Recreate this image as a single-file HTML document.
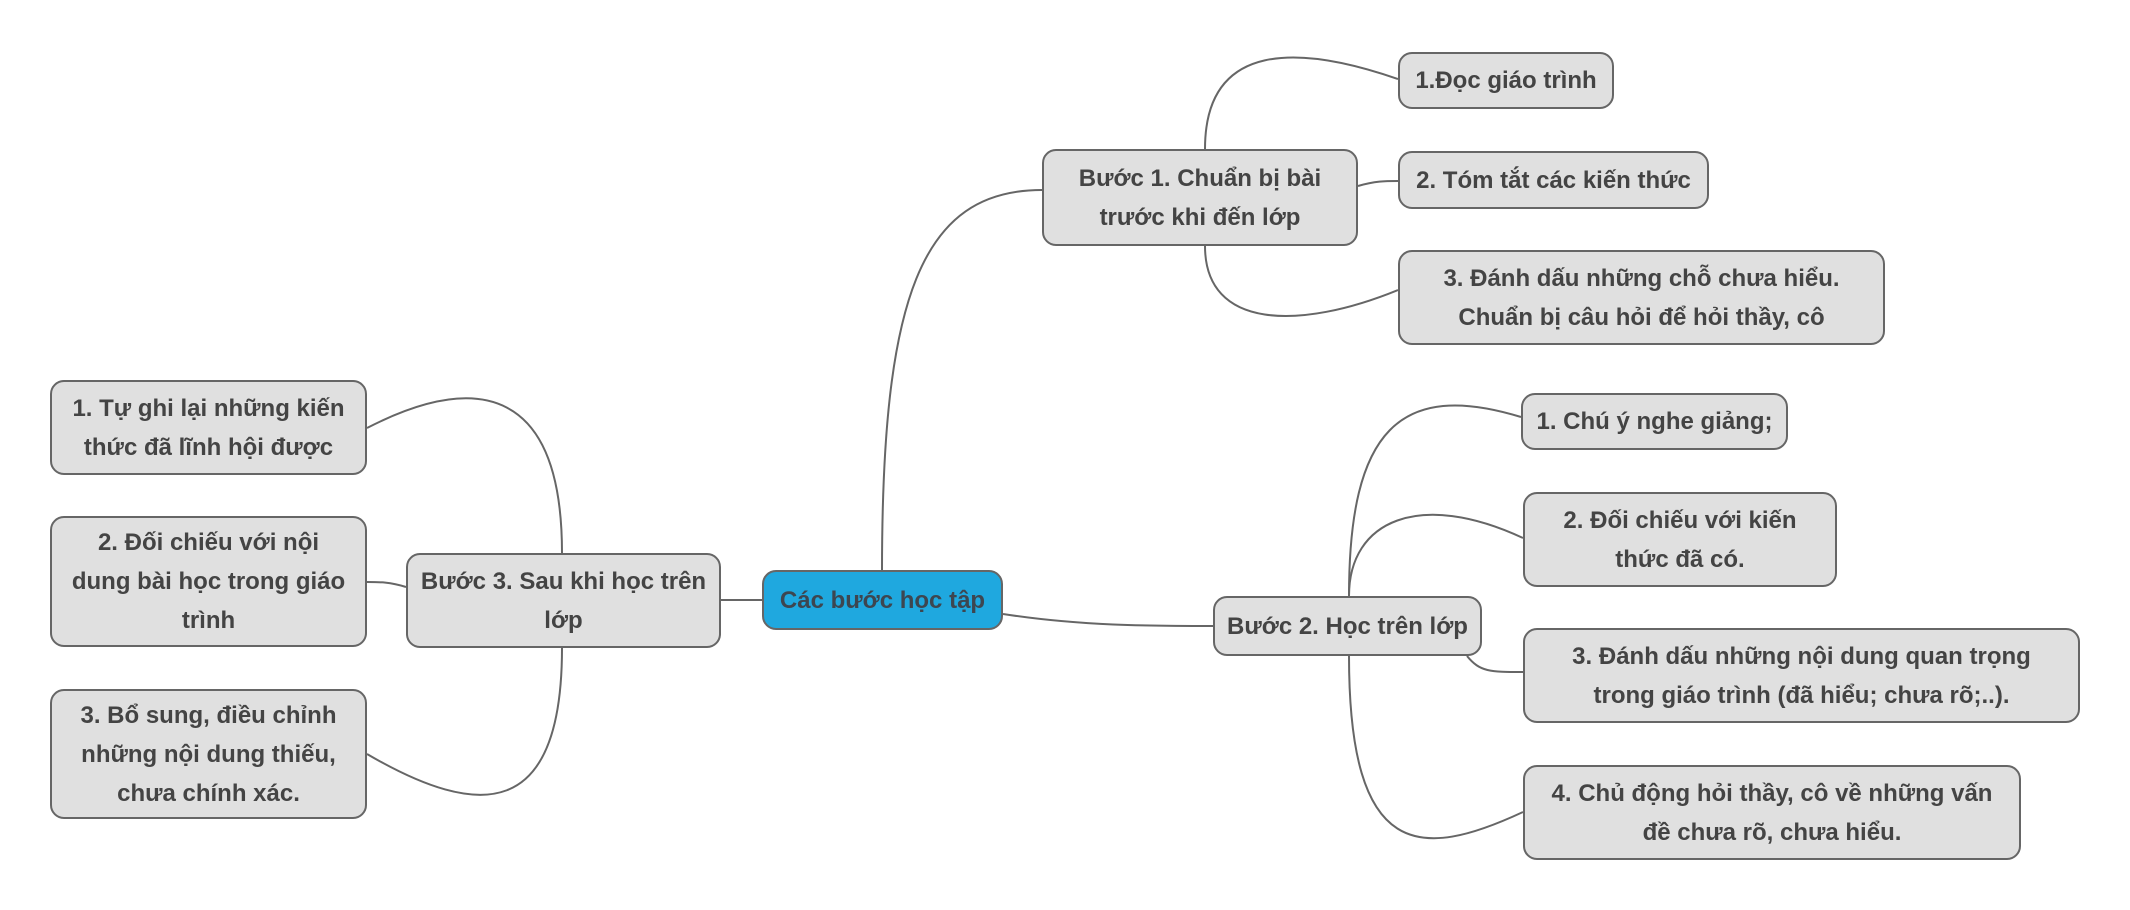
<!DOCTYPE html>
<html><head><meta charset="utf-8"><style>
html,body{margin:0;padding:0;background:#fff;}
body{width:2130px;height:910px;position:relative;overflow:hidden;font-family:"Liberation Sans","DejaVu Sans",sans-serif;}
.n{position:absolute;box-sizing:border-box;background:#e0e0e0;border:2px solid #666;border-radius:14px;display:flex;align-items:center;justify-content:center;text-align:center;font-weight:bold;font-size:24px;line-height:39px;color:#444;}
.c{background:#1fa8df;color:#3d4650;}
svg{position:absolute;left:0;top:0;}
</style></head><body>
<svg width="2130" height="910" fill="none" stroke="#666" stroke-width="2">
<path d="M882,571 C882,300 920,190 1042,190"/>
<path d="M1003,614 C1080,626 1150,626 1213,626"/>
<path d="M762,600 L721,600"/>
<path d="M1205,149 C1205,40 1300,45 1398,79"/>
<path d="M1358,186 C1375,181 1385,181 1398,181"/>
<path d="M1205,246 C1205,330 1300,330 1398,290"/>
<path d="M1349,596 C1349,430 1400,380 1521,417"/>
<path d="M1349,596 C1349,520 1420,490 1523,538"/>
<path d="M1467,656 C1480,672 1490,672 1523,672"/>
<path d="M1349,656 C1349,860 1420,860 1523,812"/>
<path d="M562,553 C562,390 480,370 367,428"/>
<path d="M406,587 C390,582 380,582 367,582"/>
<path d="M562,648 C562,820 480,820 367,754"/>
</svg>
<div class="n c" style="left:762px;top:570px;width:241px;height:60px;">Các bước học tập</div>
<div class="n" style="left:1042px;top:149px;width:316px;height:97px;">Bước 1. Chuẩn bị bài<br>trước khi đến lớp</div>
<div class="n" style="left:1398px;top:52px;width:216px;height:57px;">1.Đọc giáo trình</div>
<div class="n" style="left:1398px;top:151px;width:311px;height:58px;">2. Tóm tắt các kiến thức</div>
<div class="n" style="left:1398px;top:250px;width:487px;height:95px;">3. Đánh dấu những chỗ chưa hiểu.<br>Chuẩn bị câu hỏi để hỏi thầy, cô</div>
<div class="n" style="left:1213px;top:596px;width:269px;height:60px;">Bước 2. Học trên lớp</div>
<div class="n" style="left:1521px;top:393px;width:267px;height:57px;">1. Chú ý nghe giảng;</div>
<div class="n" style="left:1523px;top:492px;width:314px;height:95px;">2. Đối chiếu với kiến<br>thức đã có.</div>
<div class="n" style="left:1523px;top:628px;width:557px;height:95px;">3. Đánh dấu những nội dung quan trọng<br>trong giáo trình (đã hiểu; chưa rõ;..).</div>
<div class="n" style="left:1523px;top:765px;width:498px;height:95px;">4. Chủ động hỏi thầy, cô về những vấn<br>đề chưa rõ, chưa hiểu.</div>
<div class="n" style="left:406px;top:553px;width:315px;height:95px;">Bước 3. Sau khi học trên<br>lớp</div>
<div class="n" style="left:50px;top:380px;width:317px;height:95px;">1. Tự ghi lại những kiến<br>thức đã lĩnh hội được</div>
<div class="n" style="left:50px;top:516px;width:317px;height:131px;">2. Đối chiếu với nội<br>dung bài học trong giáo<br>trình</div>
<div class="n" style="left:50px;top:689px;width:317px;height:130px;">3. Bổ sung, điều chỉnh<br>những nội dung thiếu,<br>chưa chính xác.</div>
</body></html>
